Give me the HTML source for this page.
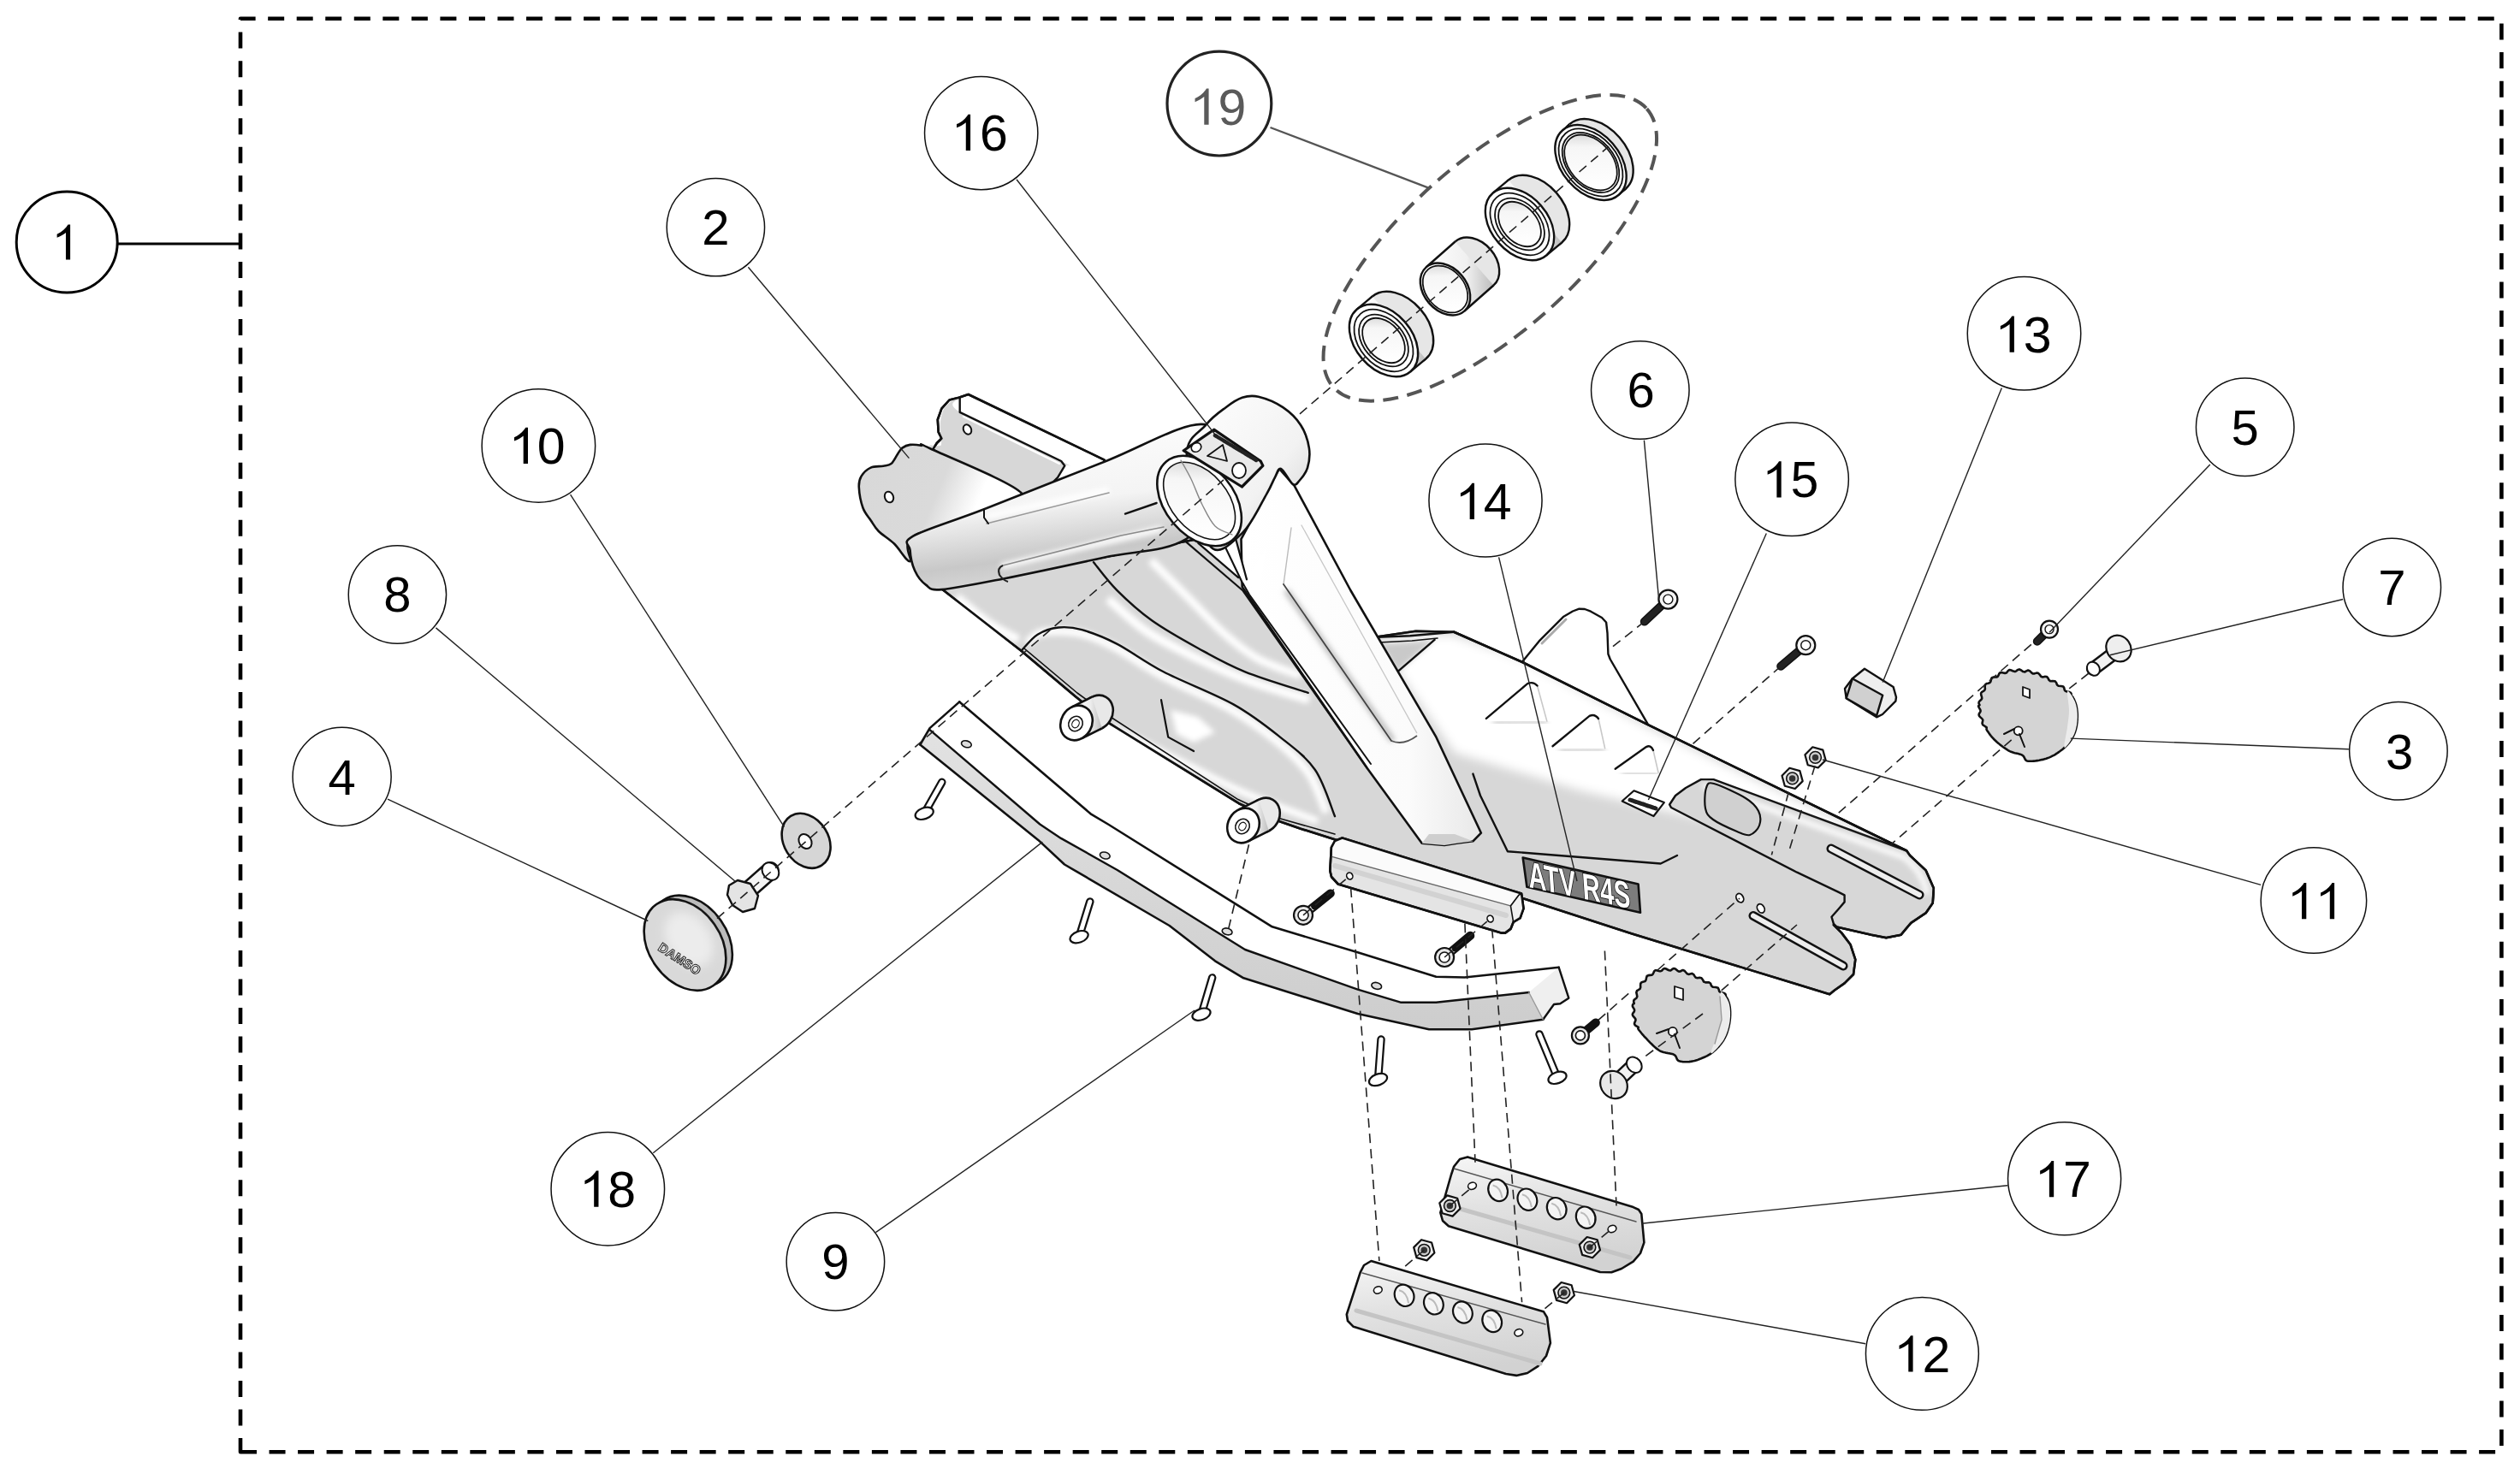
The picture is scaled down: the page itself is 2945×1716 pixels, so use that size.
<!DOCTYPE html><html><head><meta charset="utf-8"><style>html,body{margin:0;padding:0;background:#fff;overflow:hidden}svg{display:block}text{font-family:"Liberation Sans",sans-serif}</style></head><body>
<svg width="2945" height="1716" viewBox="0 0 2945 1716">
<rect width="100%" height="100%" fill="#fff"/>
<path d="M281,1697.3 H2923.4 V21.7 H281 Z" fill="none" stroke="#000" stroke-width="4.6" stroke-dasharray="19 14.54" stroke-linejoin="round"/>
<line x1="138" y1="285" x2="281" y2="285" stroke="#000" stroke-width="2.8"/>
<defs>
<filter id="gray"><feColorMatrix type="saturate" values="0"/></filter>
<linearGradient id="guideG" x1="0" y1="0" x2="0.15" y2="1"><stop offset="0" stop-color="#f6f6f6"/><stop offset="0.45" stop-color="#e2e2e2"/><stop offset="1" stop-color="#d2d2d2"/></linearGradient>
<filter id="blur3" x="-20%" y="-20%" width="140%" height="140%"><feGaussianBlur stdDeviation="3"/></filter>
<filter id="blur6" x="-20%" y="-20%" width="140%" height="140%"><feGaussianBlur stdDeviation="6"/></filter>
<linearGradient id="tubeG" x1="0" y1="0" x2="0.25" y2="1"><stop offset="0" stop-color="#fff"/><stop offset="0.55" stop-color="#f4f4f4"/><stop offset="0.85" stop-color="#c8c8c8"/><stop offset="1" stop-color="#d8d8d8"/></linearGradient>
<linearGradient id="plateG" x1="0" y1="0" x2="1" y2="0.3"><stop offset="0" stop-color="#d8d8d8"/><stop offset="0.55" stop-color="#dadada"/><stop offset="0.8" stop-color="#fff"/></linearGradient>
<linearGradient id="armG" x1="0" y1="0" x2="1" y2="0"><stop offset="0" stop-color="#fff"/><stop offset="0.7" stop-color="#fbfbfb"/><stop offset="1" stop-color="#e8e8e8"/></linearGradient>
<linearGradient id="bossG" x1="0" y1="0" x2="1" y2="1"><stop offset="0" stop-color="#fff"/><stop offset="0.6" stop-color="#f2f2f2"/><stop offset="1" stop-color="#cfcfcf"/></linearGradient>
<linearGradient id="innerG" x1="0" y1="0" x2="1" y2="0.6"><stop offset="0" stop-color="#c8c8c8"/><stop offset="0.35" stop-color="#f6f6f6"/><stop offset="1" stop-color="#fff"/></linearGradient>
<linearGradient id="sideG" x1="0" y1="0" x2="0" y2="1"><stop offset="0" stop-color="#e2e2e2"/><stop offset="1" stop-color="#cdcdcd"/></linearGradient>
<linearGradient id="ringG" x1="0" y1="0" x2="1" y2="0"><stop offset="0" stop-color="#fff"/><stop offset="0.6" stop-color="#f0f0f0"/><stop offset="1" stop-color="#bdbdbd"/></linearGradient>
</defs>
<path d="M1090.2,525.4 L1094.8,518.0 L1100.4,512.5 L1096.7,505.2 L1095.8,490.5 L1100.4,477.6 L1109.5,467.5 L1120.6,464.7 L1131.6,461.0 L1290.6,537.6 L1290.0,560.0 L1200.0,590.0 Z" fill="#fff" stroke="#111" stroke-width="2.6" stroke-linejoin="round" />
<path d="M1099.9,519.9 C1101.0,515.4 1098.0,504.9 1098.5,498.1 C1099.0,491.3 1100.1,484.0 1102.6,479.0 C1105.1,474.0 1110.3,470.4 1113.5,468.1 C1116.7,465.8 1120.3,463.1 1121.7,465.4 C1123.1,467.7 1102.0,469.5 1121.7,481.8 C1141.5,494.1 1219.8,528.6 1240.2,539.0 C1260.6,549.4 1245.0,541.2 1244.3,544.4 C1243.6,547.6 1239.7,553.5 1236.1,558.1 C1232.5,562.7 1229.3,568.3 1222.5,571.7 C1215.7,575.1 1217.0,586.2 1195.2,578.5 C1173.4,570.8 1107.6,535.2 1091.7,525.4 C1075.8,515.6 1098.8,524.4 1099.9,519.9 Z" fill="#d7d7d7" stroke="#111" stroke-width="0" stroke-linejoin="round" stroke-linecap="round" />
<path d="M1121.7,465.4 L1121.7,481.8 L1240.2,539.0 L1244.3,544.4 L1236.1,558.1 L1222.5,571.7" fill="none" stroke="#111" stroke-width="2.4" stroke-linejoin="round" stroke-linecap="round" />
<path d="M1126.0,487.0 L1238.0,542.0" fill="none" stroke="#fff" stroke-width="2.5" stroke-linejoin="round" stroke-linecap="round" />
<path d="M1090.2,525.4 L1094.8,518.0 L1100.4,512.5 L1096.7,505.2 L1095.8,490.5 L1100.4,477.6 L1109.5,467.5 L1120.6,464.7 L1131.6,461.0 L1290.6,537.6 L1290.0,560.0 L1200.0,590.0 Z" fill="none" stroke="#111" stroke-width="2.6" stroke-linejoin="round" />
<ellipse cx="1130.5" cy="502" rx="4.5" ry="6" transform="rotate(-25 1130.5 502)" fill="#fff" stroke="#111" stroke-width="2" />
<path d="M1100.0,688.0 L1192.8,760.2 L1256.6,814.1 L1293.4,843.6 L1447.9,939.2 L1492.0,958.9 L1520.0,968.7 L1559.0,981.0 L1784.0,1051.5 L1906.5,1091.3 L2100.0,1150.6 L2138.2,1162.2 L2144.0,1157.5 L2155.6,1149.4 L2166.0,1139.0 L2168.3,1121.6 L2162.6,1104.3 L2152.1,1090.4 L2142.9,1081.1 L2146.3,1083.4 L2186.9,1092.7 L2204.3,1096.1 L2221.6,1092.7 L2227.4,1085.7 L2233.2,1078.8 L2250.6,1067.2 L2258.7,1055.6 L2259.8,1038.2 L2250.6,1017.4 L2232.0,1000.0 L2228.2,994.5 L1926.4,847.4 L1779.1,774.0 L1699.2,738.8 L1654.6,737.7 L1606.9,744.8 L1560.0,700.0 L1500.0,600.0 L1400.0,630.0 Z" fill="#d7d7d7" stroke="#111" stroke-width="2.6" stroke-linejoin="round" />
<path d="M1610.0,750.0 L1655.0,742.0 L1697.0,742.0 L1778.0,770.0 L1926.0,850.0 L2226.0,996.0 L2215.0,1010.0 L2000.0,960.0 L1850.0,925.0 L1700.0,880.0 Z" fill="#fff" filter="url(#blur6)"/>
<path d="M1779.1,773.5 L1798.7,749.4 L1827.4,720.7 L1838.0,714.5 L1845.5,711.7 L1852.0,712.0 L1859.0,714.7 L1872.0,722.0 L1877.1,727.5 L1878.5,740.0 L1879.4,764.5 L1881.7,770.5 L1925.4,845.9 Z" fill="#fff" stroke="none"/>
<path d="M1802.0,752.0 L1830.0,724.0" fill="none" stroke="#aaa" stroke-width="3" stroke-linejoin="round" stroke-linecap="round" />
<path d="M1779.1,773.5 L1798.7,749.4 L1827.4,720.7 L1838.0,714.5 L1845.5,711.7 L1852.0,712.0 L1859.0,714.7 L1872.0,722.0 L1877.1,727.5 L1878.5,740.0 L1879.4,764.5 L1881.7,770.5 L1925.4,845.9" fill="none" stroke="#111" stroke-width="2.4" stroke-linejoin="round" stroke-linecap="round" />
<path d="M1699.2,738.8 L1779.1,774.0 L1926.4,847.4 L2228.2,994.5" fill="none" stroke="#111" stroke-width="2.6" stroke-linejoin="round" stroke-linecap="round" />
<path d="M1744.9,844.9 L1807.8,843.9" stroke="#bdbdbd" stroke-width="4" filter="url(#blur3)"/>
<path d="M1796.5,801.5 L1807.8,842.9" fill="none" stroke="#c8c8c8" stroke-width="1.6" stroke-linejoin="round" stroke-linecap="round" />
<path d="M1736.9,839.9 L1785.1,799.2 Q1791.8,796.2 1796.5,801.5" fill="none" stroke="#111" stroke-width="2.4" stroke-linecap="round"/>
<path d="M1822.5,877.3 L1875.6,875.6" stroke="#bdbdbd" stroke-width="4" filter="url(#blur3)"/>
<path d="M1868.0,840.0 L1875.6,874.6" fill="none" stroke="#c8c8c8" stroke-width="1.6" stroke-linejoin="round" stroke-linecap="round" />
<path d="M1814.5,872.3 L1857.5,836.9 Q1863.75,833.9 1868,840" fill="none" stroke="#111" stroke-width="2.4" stroke-linecap="round"/>
<path d="M1895.7,903.7 L1938,904" stroke="#bdbdbd" stroke-width="4" filter="url(#blur3)"/>
<path d="M1932.0,877.0 L1938.0,903.0" fill="none" stroke="#c8c8c8" stroke-width="1.6" stroke-linejoin="round" stroke-linecap="round" />
<path d="M1887.7,898.7 L1923.9,873.1 Q1928.95,870.1 1932,877" fill="none" stroke="#111" stroke-width="2.4" stroke-linecap="round"/>
<path d="M1613.2,752.4 L1676.5,747.9 L1632.8,785.6 Z" fill="#c9c9c9" stroke="#111" stroke-width="0" stroke-linejoin="round" filter="url(#blur3)"/>
<path d="M1676.5,747.9 L1632.8,785.6" fill="none" stroke="#111" stroke-width="2.4" stroke-linejoin="round" stroke-linecap="round" />
<path d="M1608.7,744.9 L1647.9,743.3 L1699.2,738.8" fill="none" stroke="#111" stroke-width="2.4" stroke-linejoin="round" stroke-linecap="round" />
<path d="M1611.0,751.0 L1650.0,749.0 L1680.0,746.0" fill="none" stroke="#111" stroke-width="1.6" stroke-linejoin="round" stroke-linecap="round" />
<path d="M1951.1,940.5 L1958.0,930.0 L1970.0,921.0 L1987.9,911.1 L2002.6,911.1 L2228.2,994.5 L2232.0,1000.0 L2250.6,1017.4 L2259.8,1038.2 L2258.7,1055.6 L2250.6,1067.2 L2233.2,1078.8 L2227.4,1085.7 L2221.6,1092.7 L2204.3,1096.1 L2186.9,1092.7 L2146.3,1083.4 L2142.9,1079.9 L2140.5,1071.8 L2148.7,1062.5 L2155.6,1054.4 L2155.6,1046.3 L2148.7,1042.9 L2100.0,1019.7 L1953.0,944.0 Z" fill="#d7d7d7" stroke="#111" stroke-width="2.4" stroke-linejoin="round" />
<path d="M1990,918 L2225,1002 Q2248,1020 2252,1045" fill="none" stroke="#fff" stroke-width="6" filter="url(#blur3)"/>
<path d="M1994.0,921.0 C1995.7,916.2 1995.3,914.0 2003.0,916.0 C2010.7,918.0 2031.3,927.7 2040.0,933.0 C2048.7,938.3 2052.3,942.7 2055.0,948.0 C2057.7,953.3 2057.7,960.3 2056.0,965.0 C2054.3,969.7 2049.3,974.8 2045.0,976.0 C2040.7,977.2 2037.2,975.0 2030.0,972.0 C2022.8,969.0 2008.2,962.5 2002.0,958.0 C1995.8,953.5 1994.3,951.2 1993.0,945.0 C1991.7,938.8 1992.3,925.8 1994.0,921.0 Z" fill="#d0d0d0" stroke="#111" stroke-width="2.2" stroke-linejoin="round" stroke-linecap="round" />
<path d="M2140,992 L2243,1046" stroke="#111" stroke-width="11" stroke-linecap="round"/>
<path d="M2140,992 L2243,1046" stroke="#eee" stroke-width="6" stroke-linecap="round"/>
<path d="M2049,1070.5 L2154,1129" stroke="#111" stroke-width="11" stroke-linecap="round"/>
<path d="M2049,1070.5 L2154,1129" stroke="#eee" stroke-width="6" stroke-linecap="round"/>
<ellipse cx="2033.3" cy="1049.7" rx="4" ry="5.5" transform="rotate(-30 2033.3 1049.7)" fill="#fff" stroke="#111" stroke-width="1.8" />
<ellipse cx="2057.8" cy="1061.9" rx="4" ry="5.5" transform="rotate(-30 2057.8 1061.9)" fill="#fff" stroke="#111" stroke-width="1.8" />
<path d="M1721.4,904.6 L1730.0,930.0 L1761.9,995.2 L1940.7,1009.5 L1960.0,1000.0" fill="none" stroke="#111" stroke-width="2.4" stroke-linejoin="round" stroke-linecap="round" />
<path d="M1779.7,1002.5 L1914.6,1033.5 L1917.0,1066.8 L1784.4,1036.7 Z" fill="#7c7c7c" stroke="#111" stroke-width="2.6" stroke-linejoin="round" />
<g filter="url(#gray)"><g transform="translate(1787,1037) rotate(12) skewX(16) scale(0.7,1)"><text x="0" y="0" font-family="Liberation Sans" font-weight="bold" font-size="42" fill="#fff" stroke="#111" stroke-width="2" paint-order="stroke">ATV R4S</text></g></g>
<path d="M1909.5,924.3 L1944.8,938.1 L1932.5,954.0 L1895.7,936.5 Z" fill="#fff" stroke="#111" stroke-width="2.2" stroke-linejoin="round" /><path d="M1905.0,935.0 L1935.0,945.0" fill="none" stroke="#222" stroke-width="5" stroke-linejoin="round" stroke-linecap="round" stroke-dasharray="3 2"/>
<path d="M1200.0,752.0 C1202.5,750.0 1208.3,742.3 1215.0,740.0 C1221.7,737.7 1231.2,737.7 1240.0,738.0 C1248.8,738.3 1257.2,738.7 1268.0,742.0 C1278.8,745.3 1289.7,749.8 1305.0,758.0 C1320.3,766.2 1337.5,779.0 1360.0,791.0 C1382.5,803.0 1417.7,817.2 1440.0,830.0 C1462.3,842.8 1479.0,855.5 1494.0,868.0 C1509.0,880.5 1520.7,891.3 1530.0,905.0 C1539.3,918.7 1546.7,942.5 1550.0,950.0" fill="none" stroke="#fff" stroke-width="9" filter="url(#blur3)"/>
<path d="M1118.0,698.0 C1124.2,703.0 1143.0,719.7 1155.0,728.0 C1167.0,736.3 1184.2,744.7 1190.0,748.0" fill="none" stroke="#fff" stroke-width="10" filter="url(#blur3)"/>
<path d="M1345.0,655.0 C1352.5,662.5 1375.8,685.8 1390.0,700.0 C1404.2,714.2 1416.7,728.3 1430.0,740.0 C1443.3,751.7 1455.0,761.7 1470.0,770.0 C1485.0,778.3 1511.7,786.7 1520.0,790.0" fill="none" stroke="#fff" stroke-width="9" filter="url(#blur3)"/>
<path d="M1300.0,850.0 C1313.3,856.7 1355.0,877.5 1380.0,890.0 C1405.0,902.5 1423.3,913.3 1450.0,925.0 C1476.7,936.7 1525.0,954.2 1540.0,960.0" fill="none" stroke="#fff" stroke-width="8" filter="url(#blur3)"/>
<path d="M1295.0,700.0 C1302.5,706.3 1322.5,726.3 1340.0,738.0 C1357.5,749.7 1380.0,760.3 1400.0,770.0 C1420.0,779.7 1438.3,788.0 1460.0,796.0 C1481.7,804.0 1518.3,814.3 1530.0,818.0" fill="none" stroke="#fff" stroke-width="10" filter="url(#blur3)"/>
<path d="M1278.0,657.2 C1282.5,662.7 1293.9,678.5 1305.2,689.9 C1316.5,701.2 1330.2,713.9 1346.1,725.3 C1362.0,736.6 1382.4,748.0 1400.6,758.0 C1418.8,768.0 1433.8,776.7 1455.1,785.3 C1476.4,793.9 1516.4,805.7 1528.7,809.8" fill="none" stroke="#111" stroke-width="2.4" stroke-linejoin="round" stroke-linecap="round" />
<path d="M1193.5,760.8 C1196.7,757.6 1205.3,746.2 1212.6,741.7 C1219.9,737.2 1228.5,734.4 1237.1,733.5 C1245.7,732.6 1253.1,733.0 1264.4,736.2 C1275.8,739.4 1289.3,744.4 1305.2,752.6 C1321.1,760.8 1337.0,773.5 1359.7,785.3 C1382.4,797.1 1418.8,810.7 1441.5,823.4 C1464.2,836.1 1480.1,848.9 1496.0,861.6 C1511.9,874.3 1526.1,884.3 1536.8,899.7 C1547.5,915.1 1556.1,945.1 1560.0,954.2" fill="none" stroke="#111" stroke-width="2.4" stroke-linejoin="round" stroke-linecap="round" />
<path d="M1100.0,688.0 L1192.8,760.2 L1256.6,814.1 L1293.4,843.6 L1447.9,939.2 L1492.0,958.9 L1520.0,968.7 L1559.0,981.0 L1784.0,1051.5 L1906.5,1091.3 L2100.0,1150.6 L2138.2,1162.2 L2144.0,1157.5 L2155.6,1149.4 L2166.0,1139.0 L2168.3,1121.6 L2162.6,1104.3 L2152.1,1090.4 L2142.9,1081.1 L2146.3,1083.4 L2186.9,1092.7 L2204.3,1096.1 L2221.6,1092.7 L2227.4,1085.7 L2233.2,1078.8 L2250.6,1067.2 L2258.7,1055.6 L2259.8,1038.2 L2250.6,1017.4 L2232.0,1000.0 L2228.2,994.5 L1926.4,847.4 L1779.1,774.0 L1699.2,738.8 L1654.6,737.7 L1606.9,744.8 L1560.0,700.0 L1500.0,600.0 L1400.0,630.0 Z" fill="none" stroke="#111" stroke-width="2.6" stroke-linejoin="round" />
<path d="M1357.0,818.0 L1365.2,861.6 L1395.1,878.0" fill="none" stroke="#111" stroke-width="2.2" stroke-linejoin="round" stroke-linecap="round" /><path d="M1368,830 L1375,858 L1395,868 L1420,856 L1400,838 Z" fill="#fff" filter="url(#blur3)"/>
<path d="M1197.0,758.0 L1258.9,810.0 L1291.6,834.0 L1446.9,934.6 L1493.0,956.0 L1560.0,975.0" fill="none" stroke="#111" stroke-width="1.6" stroke-linejoin="round" stroke-linecap="round" />
<path d="M1512.7,567.8 L1578.3,690.0 L1678.4,861.7 L1730.9,973.7 L1721.4,983.3 L1702.3,985.7 L1688.0,988.0 L1661.7,985.7 L1597.4,897.4 L1451.7,686.0 L1450.5,630.2 L1495.0,548.0 Z" fill="url(#armG)" stroke="#111" stroke-width="2.6" stroke-linejoin="round" />
<path d="M1503,690 L1628,866" stroke="#bdbdbd" stroke-width="7" filter="url(#blur3)"/>
<path d="M1509.0,617.0 L1500.0,683.0" fill="none" stroke="#bbb" stroke-width="1.4" stroke-linejoin="round" stroke-linecap="round" />
<path d="M1500.0,683.0 L1626.0,866.0" fill="none" stroke="#444" stroke-width="1.8" stroke-linejoin="round" stroke-linecap="round" />
<path d="M1521.0,614.0 L1655.7,856.6" fill="none" stroke="#c8c8c8" stroke-width="1.3" stroke-linejoin="round" stroke-linecap="round" />
<path d="M1626,866 Q1640,872 1656,860" fill="none" stroke="#555" stroke-width="1.8"/>
<path d="M1661.7,985.7 L1688.0,988.0 L1702.3,985.7 L1721.4,983.3 L1700.0,975.0 L1670.0,975.0 Z" fill="#cfcfcf"/>
<path d="M1400.3,634.9 L1430.8,637.1 L1452.0,681.0 L1447.2,675.2 Z" fill="#fff" stroke="#111" stroke-width="0" stroke-linejoin="round" />
<path d="M1430.8,637.1 L1444.0,629.4 L1457.0,677.4 L1470.0,700.0 L1480.0,640.0 L1452.6,682.8 Z" fill="#fff" stroke="#111" stroke-width="0" stroke-linejoin="round" />
<path d="M1384.0,631.6 L1452.6,690.5 L1597.4,897.4" fill="none" stroke="#111" stroke-width="2.2" stroke-linejoin="round" stroke-linecap="round" />
<path d="M1400.3,634.9 L1447.2,675.2" fill="none" stroke="#111" stroke-width="2.2" stroke-linejoin="round" stroke-linecap="round" />
<path d="M1452.6,682.0 L1460.0,695.0 L1602.0,893.0" fill="none" stroke="#111" stroke-width="2.0" stroke-linejoin="round" stroke-linecap="round" />
<path d="M1430.8,637.1 L1452.6,682.8" fill="none" stroke="#111" stroke-width="2.2" stroke-linejoin="round" stroke-linecap="round" />
<path d="M1444.0,629.4 L1457.0,677.4" fill="none" stroke="#111" stroke-width="2.2" stroke-linejoin="round" stroke-linecap="round" />
<path d="M1063.6,656.0 C1060.0,657.5 1051.3,641.6 1045.2,635.8 C1039.1,630.0 1031.4,625.6 1026.8,621.0 C1022.2,616.4 1020.7,612.8 1017.6,608.2 C1014.5,603.6 1010.7,600.0 1008.4,593.5 C1006.1,587.0 1004.1,575.6 1003.8,569.5 C1003.5,563.4 1004.3,560.5 1006.6,556.7 C1008.9,552.9 1013.3,548.6 1017.6,546.6 C1021.9,544.6 1028.3,545.5 1032.3,544.7 C1036.3,543.9 1038.7,544.3 1041.5,542.0 C1044.3,539.7 1046.8,534.0 1048.9,530.9 C1051.1,527.8 1052.0,525.4 1054.4,523.6 C1056.9,521.8 1059.9,520.4 1063.6,519.9 C1067.3,519.4 1072.4,520.0 1076.4,520.8 C1080.4,521.6 1067.9,515.1 1087.5,524.5 C1107.1,533.9 1183.8,564.3 1194.2,576.9 C1204.6,589.5 1171.2,591.6 1150.0,600.0 C1128.8,608.4 1081.4,617.7 1067.0,627.0 C1052.6,636.3 1067.2,654.5 1063.6,656.0 Z" fill="url(#plateG)" stroke="#111" stroke-width="2.6" stroke-linejoin="round" stroke-linecap="round" />
<ellipse cx="1039" cy="581" rx="5" ry="6.5" transform="rotate(-20 1039 581)" fill="#fff" stroke="#111" stroke-width="2" />
<path d="M1067.2,626.6 C1081.6,618.6 1112.9,609.7 1150.0,595.3 C1187.1,580.9 1247.1,556.5 1290.0,540.0 C1332.9,523.5 1382.6,492.8 1407.6,496.1 C1432.6,499.4 1443.6,537.6 1440.0,560.0 C1436.4,582.4 1411.2,614.9 1386.2,630.2 C1361.2,645.5 1325.4,644.0 1290.0,651.7 C1254.6,659.4 1205.6,670.0 1174.0,676.2 C1142.4,682.4 1115.7,687.9 1100.4,689.1 C1085.1,690.3 1087.2,687.3 1082.0,683.6 C1076.8,679.9 1072.2,673.8 1069.1,667.0 C1066.0,660.2 1063.9,649.8 1063.6,643.1 C1063.3,636.4 1052.8,634.6 1067.2,626.6 Z" fill="url(#tubeG)" stroke="#111" stroke-width="2.6" stroke-linejoin="round" stroke-linecap="round" />
<path d="M1152,604 L1296,573" stroke="#fff" stroke-width="7" filter="url(#blur3)"/>
<path d="M1153.0,612.0 L1296.0,576.0" fill="none" stroke="#999" stroke-width="1.6" stroke-linejoin="round" stroke-linecap="round" />
<path d="M1170,662 L1358,618" stroke="#fff" stroke-width="7" filter="url(#blur3)"/>
<path d="M1172.0,661.0 L1310.0,626.0 L1360.0,616.0" fill="none" stroke="#8a8a8a" stroke-width="1.5" stroke-linejoin="round" stroke-linecap="round" />
<path d="M1172,661 Q1165,664 1168,672 Q1172,678 1178,680" fill="none" stroke="#222" stroke-width="2.2"/>
<path d="M1150.0,595.0 L1150.0,605.0 L1155.0,612.0" fill="none" stroke="#111" stroke-width="2" stroke-linejoin="round" stroke-linecap="round" />
<path d="M1315.0,600.6 L1351.6,588.0" fill="none" stroke="#111" stroke-width="2.4" stroke-linejoin="round" stroke-linecap="round" />
<path d="M1386.8,533.5 C1386.2,510.0 1402.1,505.9 1409.7,496.3 C1417.3,486.8 1425.6,481.4 1432.6,476.2 C1439.6,470.9 1445.3,466.9 1451.7,464.8 C1458.1,462.7 1462.8,461.9 1470.7,463.8 C1478.6,465.7 1491.0,470.6 1499.3,476.2 C1507.6,481.8 1515.2,489.2 1520.3,497.2 C1525.4,505.1 1528.6,515.6 1529.9,523.9 C1531.2,532.2 1529.9,540.4 1528.0,546.8 C1526.1,553.1 1521.3,558.8 1518.4,562.0 C1515.5,565.2 1514.4,568.2 1510.8,565.9 C1507.2,563.6 1500.5,549.3 1497.0,548.0 C1493.5,546.7 1492.6,553.4 1489.8,558.3 C1487.0,563.2 1486.6,566.5 1480.3,577.3 C1474.0,588.1 1462.8,613.1 1451.7,623.1 C1440.6,633.1 1424.3,652.3 1413.5,637.4 C1402.7,622.5 1387.4,557.0 1386.8,533.5 Z" fill="url(#bossG)" stroke="#111" stroke-width="2.6" stroke-linejoin="round" stroke-linecap="round" />
<ellipse cx="1401.6" cy="585.5" rx="60" ry="40" transform="rotate(50 1401.6 585.5)" fill="#fff" stroke="#111" stroke-width="2.6" />
<ellipse cx="1401.6" cy="585.5" rx="52" ry="33" transform="rotate(50 1401.6 585.5)" fill="url(#innerG)" stroke="#111" stroke-width="1.6" />
<path d="M1380.0,538.0 C1382.0,541.7 1387.8,551.3 1392.0,560.0 C1396.2,568.7 1400.3,580.8 1405.0,590.0 C1409.7,599.2 1414.2,609.2 1420.0,615.0 C1425.8,620.8 1436.7,623.3 1440.0,625.0" fill="none" stroke="#888" stroke-width="1.4" stroke-linejoin="round" stroke-linecap="round" />
<path d="M1383.2,526.7 L1418.7,502.2 L1473.2,539.0 L1475.9,544.4 L1451.4,569.0 Z" fill="#e9e9e9" stroke="#111" stroke-width="3.2" stroke-linejoin="round" />
<path d="M1420.0,509.0 L1468.0,538.0" fill="none" stroke="#222" stroke-width="4.5" stroke-linejoin="round" stroke-linecap="round" stroke-dasharray="2.5 1.5"/>
<path d="M1411.0,533.0 L1429.0,520.0 L1434.0,539.0 L1411.0,533.0" fill="none" stroke="#111" stroke-width="1.8" stroke-linejoin="round" stroke-linecap="round" />
<ellipse cx="1448" cy="550" rx="8" ry="9" transform="rotate(0 1448 550)" fill="#fff" stroke="#111" stroke-width="1.8" />
<ellipse cx="1398" cy="523" rx="6" ry="5" transform="rotate(-30 1398 523)" fill="#fff" stroke="#111" stroke-width="1.6" />
<path d="M1568.6,979.5 L1778.1,1044.6 L1780.5,1062.0 L1776.5,1073.2 L1768.6,1077.9 L1765.4,1085.9 L1759.0,1090.6 L1754.3,1090.6 L1563.8,1033.5 L1556.0,1025.0 L1554.3,1017.6 L1555.9,990.6 L1560.0,983.0 Z" fill="#e4e4e4" stroke="#111" stroke-width="2.6" stroke-linejoin="round" />
<path d="M1560.0,983.0 L1568.6,979.5 L1778.1,1044.6 L1775.0,1046.2 L1765.4,1058.9 L1557.5,1001.7 L1555.9,990.6 Z" fill="#fbfbfb" stroke="#111" stroke-width="0" stroke-linejoin="round" />
<path d="M1557.5,1001.7 L1765.4,1058.9 L1775.0,1046.2" fill="none" stroke="#666" stroke-width="1.4" stroke-linejoin="round" stroke-linecap="round" />
<path d="M1560.0,1012.0 L1760.0,1070.0" fill="none" stroke="#d2d2d2" stroke-width="6" stroke-linejoin="round" stroke-linecap="round" />
<path d="M1765.4,1058.9 L1775.0,1046.2 L1778.1,1044.6 L1780.5,1062.0 L1776.5,1073.2 L1768.6,1077.9 Z" fill="#f0f0f0" stroke="#111" stroke-width="1.6" stroke-linejoin="round" />
<path d="M1568.6,979.5 L1778.1,1044.6 L1780.5,1062.0 L1776.5,1073.2 L1768.6,1077.9 L1765.4,1085.9 L1759.0,1090.6 L1754.3,1090.6 L1563.8,1033.5 L1556.0,1025.0 L1554.3,1017.6 L1555.9,990.6 L1560.0,983.0 Z" fill="none" stroke="#111" stroke-width="2.6" stroke-linejoin="round" />
<ellipse cx="1577.3" cy="1024" rx="3.5" ry="4" transform="rotate(-30 1577.3 1024)" fill="#fff" stroke="#111" stroke-width="1.6" />
<ellipse cx="1741.6" cy="1074" rx="3.5" ry="4" transform="rotate(-30 1741.6 1074)" fill="#fff" stroke="#111" stroke-width="1.6" />
<ellipse cx="1282" cy="833" rx="18" ry="21" transform="rotate(30 1282 833)" fill="#e8e8e8" stroke="#111" stroke-width="2.6"/><path d="M1263.8,863.3 L1287.8,851.3 L1276.2,814.7 L1252.2,826.7 Z" fill="url(#ringG)" stroke="none"/><path d="M1263.8,863.3 L1287.8,851.3 M1276.2,814.7 L1252.2,826.7" stroke="#111" stroke-width="2.6" fill="none"/><ellipse cx="1258" cy="845" rx="18" ry="21" transform="rotate(30 1258 845)" fill="#fff" stroke="#111" stroke-width="2.6" /><ellipse cx="1257" cy="846" rx="8" ry="9" transform="rotate(30 1257 846)" fill="#fff" stroke="#111" stroke-width="1.6" /><ellipse cx="1257" cy="846" rx="4" ry="5" transform="rotate(30 1257 846)" fill="#fff" stroke="#111" stroke-width="1.2" />
<ellipse cx="1477" cy="953" rx="18" ry="21" transform="rotate(30 1477 953)" fill="#e8e8e8" stroke="#111" stroke-width="2.6"/><path d="M1458.8,983.3 L1482.8,971.3 L1471.2,934.7 L1447.2,946.7 Z" fill="url(#ringG)" stroke="none"/><path d="M1458.8,983.3 L1482.8,971.3 M1471.2,934.7 L1447.2,946.7" stroke="#111" stroke-width="2.6" fill="none"/><ellipse cx="1453" cy="965" rx="18" ry="21" transform="rotate(30 1453 965)" fill="#fff" stroke="#111" stroke-width="2.6" /><ellipse cx="1452" cy="966" rx="8" ry="9" transform="rotate(30 1452 966)" fill="#fff" stroke="#111" stroke-width="1.6" /><ellipse cx="1452" cy="966" rx="4" ry="5" transform="rotate(30 1452 966)" fill="#fff" stroke="#111" stroke-width="1.2" />
<path d="M1086.6,853.1 L1215.3,963.5 L1239.9,979.9 L1305.3,1016.7 L1455.0,1110.0 L1586.7,1156.7 L1636.7,1171.7 L1678.3,1171.7 L1786.7,1160.0 L1803.3,1191.7 L1803.3,1191.7 L1720.0,1203.3 L1670.0,1203.3 L1586.7,1185.0 L1453.3,1143.3 L1420.0,1123.3 L1366.6,1082.0 L1244.0,1010.5 L1213.3,981.9 L1075.3,870.5 L1081.0,860.0 Z" fill="url(#sideG)" stroke="#111" stroke-width="0" stroke-linejoin="round" />
<path d="M1121.3,820.4 L1274.6,951.3 L1295.0,963.5 L1420.0,1041.7 L1486.7,1083.3 L1586.7,1113.3 L1678.3,1141.7 L1711.7,1142.5 L1821.7,1130.8 L1786.7,1160.0 L1786.7,1160.0 L1678.3,1171.7 L1636.7,1171.7 L1586.7,1156.7 L1455.0,1110.0 L1305.3,1016.7 L1239.9,979.9 L1215.3,963.5 L1086.6,853.1 L1086.6,851.1 Z" fill="#fff" stroke="#111" stroke-width="0" stroke-linejoin="round" />
<path d="M1821.7,1130.8 L1833.3,1166.7 L1823.3,1173.3 L1816.0,1174.0 L1811.7,1180.0 L1803.3,1191.7 L1786.7,1160.0 Z" fill="#efefef" stroke="#111" stroke-width="0" stroke-linejoin="round" />
<path d="M1121.3,820.4 L1274.6,951.3 L1295.0,963.5 L1420.0,1041.7 L1486.7,1083.3 L1586.7,1113.3 L1678.3,1141.7 L1711.7,1142.5 L1821.7,1130.8" fill="none" stroke="#111" stroke-width="2.6" stroke-linejoin="round" stroke-linecap="round" />
<path d="M1086.6,853.1 L1215.3,963.5 L1239.9,979.9 L1305.3,1016.7 L1455.0,1110.0 L1586.7,1156.7 L1636.7,1171.7 L1678.3,1171.7 L1786.7,1160.0" fill="none" stroke="#111" stroke-width="2.4" stroke-linejoin="round" stroke-linecap="round" />
<path d="M1075.3,870.5 L1213.3,981.9 L1244.0,1010.5 L1366.6,1082.0 L1420.0,1123.3 L1453.3,1143.3 L1586.7,1185.0 L1670.0,1203.3 L1720.0,1203.3 L1803.3,1191.7" fill="none" stroke="#111" stroke-width="2.6" stroke-linejoin="round" stroke-linecap="round" />
<path d="M1821.7,1130.8 L1833.3,1166.7 L1823.3,1173.3 L1816.0,1174.0 L1811.7,1180.0 L1803.3,1191.7" fill="none" stroke="#111" stroke-width="2.4" stroke-linejoin="round" stroke-linecap="round" />
<path d="M1786.7,1160.0 L1803.3,1191.7" fill="none" stroke="#999" stroke-width="1.4" stroke-linejoin="round" stroke-linecap="round" />
<path d="M1121.3,820.4 L1086.6,851.1 L1075.3,870.5" fill="none" stroke="#111" stroke-width="2.6" stroke-linejoin="round" stroke-linecap="round" />
<ellipse cx="1129.4" cy="869.8" rx="6" ry="3.8" transform="rotate(15 1129.4 869.8)" fill="#ddd" stroke="#111" stroke-width="1.6" />
<ellipse cx="1291.3" cy="1000" rx="6" ry="3.8" transform="rotate(15 1291.3 1000)" fill="#ddd" stroke="#111" stroke-width="1.6" />
<ellipse cx="1434.1" cy="1088.9" rx="6" ry="3.8" transform="rotate(15 1434.1 1088.9)" fill="#ddd" stroke="#111" stroke-width="1.6" />
<ellipse cx="1608.7" cy="1152.4" rx="6" ry="3.8" transform="rotate(15 1608.7 1152.4)" fill="#ddd" stroke="#111" stroke-width="1.6" />
<path d="M1080.2,950.8 L1100.8,914.3" fill="none" stroke="#111" stroke-width="9.5" stroke-linejoin="round" stroke-linecap="round" /><path d="M1080.2,950.8 L1100.8,914.3" fill="none" stroke="#fff" stroke-width="5" stroke-linejoin="round" stroke-linecap="round" /><ellipse cx="1080.2" cy="950.8" rx="11" ry="6.5" transform="rotate(-20 1080.2 950.8)" fill="#fff" stroke="#111" stroke-width="2.2" />
<path d="M1261.1,1095.2 L1273.8,1054.0" fill="none" stroke="#111" stroke-width="9.5" stroke-linejoin="round" stroke-linecap="round" /><path d="M1261.1,1095.2 L1273.8,1054.0" fill="none" stroke="#fff" stroke-width="5" stroke-linejoin="round" stroke-linecap="round" /><ellipse cx="1261.1" cy="1095.2" rx="11" ry="6.5" transform="rotate(-20 1261.1 1095.2)" fill="#fff" stroke="#111" stroke-width="2.2" />
<path d="M1404.0,1185.7 L1416.7,1142.9" fill="none" stroke="#111" stroke-width="9.5" stroke-linejoin="round" stroke-linecap="round" /><path d="M1404.0,1185.7 L1416.7,1142.9" fill="none" stroke="#fff" stroke-width="5" stroke-linejoin="round" stroke-linecap="round" /><ellipse cx="1404" cy="1185.7" rx="11" ry="6.5" transform="rotate(-20 1404 1185.7)" fill="#fff" stroke="#111" stroke-width="2.2" />
<path d="M1610.5,1262.0 L1614.0,1215.0" fill="none" stroke="#111" stroke-width="9.5" stroke-linejoin="round" stroke-linecap="round" /><path d="M1610.5,1262.0 L1614.0,1215.0" fill="none" stroke="#fff" stroke-width="5" stroke-linejoin="round" stroke-linecap="round" /><ellipse cx="1610.5" cy="1262" rx="11" ry="6.5" transform="rotate(-20 1610.5 1262)" fill="#fff" stroke="#111" stroke-width="2.2" />
<path d="M1820.0,1259.8 L1799.0,1209.0" fill="none" stroke="#111" stroke-width="9.5" stroke-linejoin="round" stroke-linecap="round" /><path d="M1820.0,1259.8 L1799.0,1209.0" fill="none" stroke="#fff" stroke-width="5" stroke-linejoin="round" stroke-linecap="round" /><ellipse cx="1820" cy="1259.8" rx="11" ry="6.5" transform="rotate(-20 1820 1259.8)" fill="#fff" stroke="#111" stroke-width="2.2" />
<path d="M1523.0,1069.8 L1554.8,1044.4" fill="none" stroke="#111" stroke-width="10" stroke-linejoin="round" stroke-linecap="round" /><path d="M1523.0,1069.8 L1535.7,1059.6" fill="none" stroke="#fff" stroke-width="5.5" stroke-linejoin="round" stroke-linecap="round" /><path d="M1535.7,1059.6 L1554.8,1044.4" fill="none" stroke="#111" stroke-width="7" stroke-linejoin="round" stroke-linecap="round" /><circle cx="1523" cy="1069.8" r="11" fill="#e6e6e6" stroke="#111" stroke-width="2.2"/><circle cx="1523" cy="1069.8" r="6.050000000000001" fill="#fff" stroke="#111" stroke-width="1.6"/>
<path d="M1688.1,1119.0 L1718.3,1093.7" fill="none" stroke="#111" stroke-width="10" stroke-linejoin="round" stroke-linecap="round" /><path d="M1688.1,1119.0 L1700.2,1108.9" fill="none" stroke="#fff" stroke-width="5.5" stroke-linejoin="round" stroke-linecap="round" /><path d="M1700.2,1108.9 L1718.3,1093.7" fill="none" stroke="#111" stroke-width="7" stroke-linejoin="round" stroke-linecap="round" /><circle cx="1688.1" cy="1119" r="11" fill="#e6e6e6" stroke="#111" stroke-width="2.2"/><circle cx="1688.1" cy="1119" r="6.050000000000001" fill="#fff" stroke="#111" stroke-width="1.6"/>
<path d="M1846.9,1210.4 L1864.9,1195.4" fill="none" stroke="#111" stroke-width="10" stroke-linejoin="round" stroke-linecap="round" /><path d="M1846.9,1210.4 L1854.1,1204.4" fill="none" stroke="#fff" stroke-width="5.5" stroke-linejoin="round" stroke-linecap="round" /><path d="M1854.1,1204.4 L1864.9,1195.4" fill="none" stroke="#111" stroke-width="7" stroke-linejoin="round" stroke-linecap="round" /><circle cx="1846.9" cy="1210.4" r="10" fill="#e6e6e6" stroke="#111" stroke-width="2.2"/><circle cx="1846.9" cy="1210.4" r="5.5" fill="#fff" stroke="#111" stroke-width="1.6"/>
<path d="M1949.4,700.6 L1921.8,726.6" fill="none" stroke="#111" stroke-width="10" stroke-linejoin="round" stroke-linecap="round" /><path d="M1939.7,709.7 L1921.8,726.6" fill="none" stroke="#222" stroke-width="7" stroke-linejoin="round" stroke-linecap="round" /><circle cx="1949.4" cy="700.6" r="11" fill="#f4f4f4" stroke="#111" stroke-width="2.2"/><circle cx="1949.4" cy="700.6" r="5.5" fill="#fff" stroke="#111" stroke-width="1.4"/>
<path d="M2110.3,754.2 L2081.2,778.7" fill="none" stroke="#111" stroke-width="10" stroke-linejoin="round" stroke-linecap="round" /><path d="M2100.1,762.8 L2081.2,778.7" fill="none" stroke="#222" stroke-width="7" stroke-linejoin="round" stroke-linecap="round" /><circle cx="2110.3" cy="754.2" r="11" fill="#f4f4f4" stroke="#111" stroke-width="2.2"/><circle cx="2110.3" cy="754.2" r="5.5" fill="#fff" stroke="#111" stroke-width="1.4"/>
<path d="M2395.0,735.6 L2380.8,749.8" fill="none" stroke="#111" stroke-width="10" stroke-linejoin="round" stroke-linecap="round" /><path d="M2390.0,740.6 L2380.8,749.8" fill="none" stroke="#222" stroke-width="7" stroke-linejoin="round" stroke-linecap="round" /><circle cx="2395" cy="735.6" r="10" fill="#f4f4f4" stroke="#111" stroke-width="2.2"/><circle cx="2395" cy="735.6" r="5.0" fill="#fff" stroke="#111" stroke-width="1.4"/>
<path d="M2474.7,760.4 L2446.4,781.7" fill="none" stroke="#111" stroke-width="17" stroke-linejoin="round" stroke-linecap="round" /><path d="M2474.7,760.4 L2446.4,781.7" fill="none" stroke="#f2f2f2" stroke-width="12" stroke-linejoin="round" stroke-linecap="round" />
<ellipse cx="2446.4" cy="781.7" rx="7" ry="8.5" transform="rotate(-35 2446.4 781.7)" fill="#fff" stroke="#111" stroke-width="2" />
<ellipse cx="2476" cy="758" rx="14" ry="16" transform="rotate(-35 2476 758)" fill="#eee" stroke="#111" stroke-width="2.2" />
<path d="M1885.9,1267.3 L1909.8,1244.8" fill="none" stroke="#111" stroke-width="18" stroke-linejoin="round" stroke-linecap="round" /><path d="M1885.9,1267.3 L1909.8,1244.8" fill="none" stroke="#f2f2f2" stroke-width="13" stroke-linejoin="round" stroke-linecap="round" />
<ellipse cx="1909.8" cy="1244.8" rx="8" ry="10" transform="rotate(-40 1909.8 1244.8)" fill="#fff" stroke="#111" stroke-width="2" />
<ellipse cx="1886" cy="1268" rx="15" ry="17" transform="rotate(-40 1886 1268)" fill="#e8e8e8" stroke="#111" stroke-width="2.2" />
<polygon points="2106.7,913.1 2097.8,922.0 2085.8,918.7 2082.5,906.7 2091.4,897.8 2103.4,901.1" fill="#eee" stroke="#111" stroke-width="2.2" stroke-linejoin="round"/><circle cx="2094.6" cy="909.9" r="6.875000000000001" fill="#ccc" stroke="#111" stroke-width="1.6"/><circle cx="2094.6" cy="909.9" r="3.75" fill="#333"/>
<polygon points="2133.6,888.6 2124.7,897.5 2112.7,894.2 2109.4,882.2 2118.3,873.3 2130.3,876.6" fill="#eee" stroke="#111" stroke-width="2.2" stroke-linejoin="round"/><circle cx="2121.5" cy="885.4" r="6.875000000000001" fill="#ccc" stroke="#111" stroke-width="1.6"/><circle cx="2121.5" cy="885.4" r="3.75" fill="#333"/>
<polygon points="1676.4,1464.5 1667.5,1473.4 1655.5,1470.1 1652.2,1458.1 1661.1,1449.2 1673.1,1452.5" fill="#eee" stroke="#111" stroke-width="2.2" stroke-linejoin="round"/><circle cx="1664.3" cy="1461.3" r="6.875000000000001" fill="#ccc" stroke="#111" stroke-width="1.6"/><circle cx="1664.3" cy="1461.3" r="3.75" fill="#333"/>
<polygon points="1839.9,1514.3 1831.0,1523.2 1819.0,1519.9 1815.7,1507.9 1824.6,1499.0 1836.6,1502.3" fill="#eee" stroke="#111" stroke-width="2.2" stroke-linejoin="round"/><circle cx="1827.8" cy="1511.1" r="6.875000000000001" fill="#ccc" stroke="#111" stroke-width="1.6"/><circle cx="1827.8" cy="1511.1" r="3.75" fill="#333"/>
<path d="M2313.5,824.2 L2312.6,822.4 L2312.6,820.7 L2313.7,819.3 L2315.2,818.0 L2316.2,816.5 L2316.0,814.6 L2315.2,812.3 L2315.1,810.2 L2316.2,808.8 L2317.9,807.9 L2319.3,806.8 L2319.9,805.3 L2319.7,803.4 L2319.7,801.4 L2320.3,800.0 L2321.7,799.1 L2323.6,798.7 L2325.3,798.1 L2326.3,797.0 L2326.7,795.4 L2327.1,793.5 L2327.9,792.2 L2329.4,791.6 L2331.4,791.5 L2333.3,791.5 L2334.7,790.8 L2335.5,789.4 L2336.2,787.7 L2337.3,786.4 L2339.0,786.1 L2341.0,786.5 L2343.1,786.9 L2344.7,786.5 L2345.8,785.3 L2347.0,783.8 L2348.5,783.0 L2350.5,783.5 L2352.8,784.6 L2354.8,785.1 L2356.4,784.3 L2358.0,782.9 L2359.9,782.4 L2362.1,783.5 L2364.3,785.1 L2366.2,785.5 L2368.1,784.4 L2370.1,783.5 L2372.0,784.2 L2373.9,786.1 L2375.7,787.5 L2377.7,787.4 L2379.9,786.6 L2382.0,786.8 L2383.7,788.6 L2385.2,790.8 L2387.1,791.5 L2389.5,790.9 L2391.9,791.0 L2393.4,792.6 L2394.5,794.9 L2396.2,796.2 L2398.8,796.1 L2401.5,796.2 L2403.1,798.0 L2403.9,800.4 L2405.6,801.8 L2408.6,802.0 L2411.2,802.5 L2412.3,804.3 L2412.7,806.4 L2413.7,807.8 L2415.7,808.5 L2418.0,808.9 L2419.7,809.6 L2420.5,810.7 L2420.6,812.1 L2420.5,813.5 L2421.8,814.2 L2422.5,815.1 L2423.0,816.1 L2423.6,817.2 L2424.1,818.2 L2424.6,819.4 L2425.1,820.6 L2425.6,821.9 L2426.0,823.2 L2426.4,824.6 L2426.7,826.0 L2427.0,827.5 L2427.2,829.0 L2427.4,830.5 L2427.6,832.1 L2427.7,833.6 L2427.8,835.2 L2427.8,836.7 L2427.8,838.3 L2427.7,839.9 L2427.7,841.5 L2427.5,843.1 L2427.4,844.8 L2427.1,846.5 L2426.9,848.2 L2426.6,849.8 L2426.2,851.5 L2425.8,853.1 L2425.3,854.7 L2424.8,856.3 L2424.2,857.8 L2423.5,859.3 L2422.8,860.7 L2422.1,862.1 L2421.2,863.5 L2420.4,864.9 L2419.4,866.2 L2418.5,867.6 L2417.4,868.9 L2416.3,870.1 L2415.2,871.4 L2414.0,872.6 L2412.7,873.8 L2411.4,875.0 L2410.0,876.2 L2408.5,877.3 L2406.9,878.5 L2405.3,879.6 L2403.7,880.7 L2402.0,881.8 L2400.3,882.8 L2398.5,883.7 L2396.7,884.6 L2395.0,885.4 L2393.2,886.1 L2391.4,886.7 L2389.4,887.3 L2387.3,887.9 L2385.2,888.3 L2383.1,888.8 L2380.9,889.1 L2378.8,889.4 L2376.8,889.6 L2374.9,889.8 L2373.2,889.8 L2371.6,889.8 L2370.2,889.7 L2369.1,889.5 L2368.2,889.1 L2367.5,888.6 L2367.0,888.1 L2366.6,887.4 L2366.2,886.7 L2365.9,886.0 L2365.5,885.2 L2365.1,884.5 L2364.6,883.8 L2363.9,883.2 L2363.1,882.6 L2362.1,882.1 L2361.0,881.7 L2359.8,881.4 L2358.6,881.1 L2357.3,880.8 L2355.9,880.5 L2354.5,880.2 L2353.1,879.8 L2351.6,879.3 L2350.2,878.8 L2348.7,878.1 L2347.2,877.3 L2345.7,876.4 L2344.1,875.3 L2342.4,874.2 L2340.7,873.0 L2339.0,871.7 L2337.2,870.4 L2335.5,868.9 L2333.8,867.5 L2332.2,866.0 L2330.6,864.5 L2329.1,862.9 L2327.7,861.4 L2326.4,859.8 L2325.1,858.1 L2323.9,856.3 L2322.6,854.5 L2321.5,852.6 L2321.7,850.4 L2319.4,848.8 L2317.1,847.2 L2316.5,845.3 L2317.0,843.4 L2317.3,841.6 L2316.3,840.1 L2314.6,838.6 L2313.2,837.2 L2312.6,835.8 L2312.8,834.5 L2313.5,833.3 L2314.3,832.1 L2314.6,831.0 L2314.3,829.7 L2313.5,828.4 L2312.6,826.9 L2312.0,825.3 Z" fill="#d4d4d4" stroke="#111" stroke-width="2.6" stroke-linejoin="round" />
<path d="M2416.2,808.2 C2417.4,806.6 2423.2,815.6 2425.1,820.6 C2427.0,825.6 2428.0,832.1 2427.8,838.3 C2427.7,844.5 2426.7,851.9 2424.2,857.8 C2421.7,863.7 2414.1,875.1 2412.7,873.8 C2411.3,872.5 2415.1,857.3 2416.0,850.0 C2416.9,842.7 2418.0,837.0 2418.0,830.0 C2418.0,823.0 2415.0,809.8 2416.2,808.2 Z" fill="#ececec" stroke="#111" stroke-width="0" stroke-linejoin="round" stroke-linecap="round" />
<path d="M2364.0,803.0 L2372.0,806.0 L2372.0,816.0 L2364.0,813.0 Z" fill="#fff" stroke="#111" stroke-width="1.8" stroke-linejoin="round" />
<ellipse cx="2358.7" cy="854.3" rx="5" ry="5" transform="rotate(0 2358.7 854.3)" fill="#fff" stroke="#111" stroke-width="1.8" />
<path d="M2342.0,858.0 L2354.0,852.0" fill="none" stroke="#111" stroke-width="2" stroke-linejoin="round" stroke-linecap="round" /><path d="M2360.0,858.0 L2366.0,873.0" fill="none" stroke="#111" stroke-width="2" stroke-linejoin="round" stroke-linecap="round" />
<path d="M1909.8,1172.9 L1909.2,1171.1 L1909.3,1169.4 L1910.6,1168.0 L1912.4,1166.7 L1913.3,1165.0 L1912.9,1162.7 L1912.3,1160.1 L1913.0,1158.2 L1914.9,1157.0 L1916.6,1155.9 L1917.2,1154.1 L1917.1,1151.7 L1917.3,1149.6 L1918.5,1148.2 L1920.7,1147.6 L1922.6,1147.0 L1923.6,1145.4 L1924.0,1143.1 L1924.7,1141.0 L1926.3,1140.1 L1928.4,1139.9 L1930.4,1139.7 L1931.6,1138.7 L1932.4,1137.1 L1933.1,1135.4 L1934.2,1134.3 L1935.8,1134.2 L1937.7,1134.7 L1939.5,1135.2 L1940.9,1135.2 L1942.1,1134.6 L1943.1,1133.4 L1944.1,1132.4 L1945.5,1132.0 L1947.1,1132.5 L1948.9,1133.5 L1950.6,1134.3 L1952.0,1134.5 L1953.3,1133.8 L1954.5,1132.7 L1955.8,1132.1 L1957.4,1132.3 L1959.0,1133.4 L1960.6,1134.8 L1962.1,1135.6 L1963.6,1135.5 L1965.2,1134.6 L1966.8,1134.1 L1968.5,1134.7 L1970.1,1136.5 L1971.6,1138.2 L1973.3,1138.9 L1975.2,1138.4 L1977.2,1137.9 L1979.0,1138.8 L1980.4,1140.9 L1981.8,1142.8 L1983.8,1143.3 L1986.2,1142.8 L1988.4,1143.2 L1989.9,1145.2 L1991.1,1147.6 L1993.5,1148.4 L1996.8,1148.2 L1999.0,1149.5 L1999.9,1152.2 L2001.7,1153.8 L2005.1,1154.0 L2007.8,1154.8 L2008.7,1156.8 L2009.2,1158.8 L2010.7,1160.0 L2013.0,1160.6 L2015.1,1161.1 L2016.4,1162.1 L2016.8,1163.4 L2016.9,1164.8 L2017.6,1165.8 L2018.3,1166.8 L2018.9,1167.9 L2019.4,1169.0 L2019.8,1170.2 L2020.3,1171.5 L2020.7,1172.9 L2021.1,1174.4 L2021.4,1176.0 L2021.7,1177.6 L2021.9,1179.3 L2022.0,1181.1 L2022.1,1182.9 L2022.1,1184.8 L2022.1,1186.6 L2022.0,1188.5 L2021.9,1190.3 L2021.7,1192.1 L2021.5,1193.9 L2021.2,1195.7 L2020.9,1197.5 L2020.5,1199.3 L2020.1,1201.1 L2019.6,1202.9 L2019.1,1204.7 L2018.5,1206.5 L2017.9,1208.2 L2017.2,1210.0 L2016.4,1211.7 L2015.6,1213.3 L2014.7,1214.9 L2013.8,1216.5 L2012.7,1218.0 L2011.7,1219.5 L2010.5,1221.0 L2009.3,1222.4 L2008.1,1223.9 L2006.8,1225.2 L2005.4,1226.6 L2004.1,1227.8 L2002.6,1229.0 L2001.2,1230.2 L1999.7,1231.3 L1998.2,1232.3 L1996.5,1233.3 L1994.8,1234.3 L1993.0,1235.2 L1991.2,1236.0 L1989.3,1236.8 L1987.5,1237.6 L1985.7,1238.2 L1983.9,1238.9 L1982.1,1239.4 L1980.4,1239.9 L1978.8,1240.3 L1977.2,1240.6 L1975.7,1240.9 L1974.1,1241.1 L1972.6,1241.2 L1971.1,1241.3 L1969.6,1241.3 L1968.2,1241.3 L1966.9,1241.2 L1965.6,1241.0 L1964.4,1240.8 L1963.3,1240.6 L1962.3,1240.3 L1961.5,1239.9 L1960.8,1239.4 L1960.3,1238.9 L1959.9,1238.2 L1959.6,1237.6 L1959.3,1236.8 L1959.0,1236.1 L1958.7,1235.4 L1958.3,1234.6 L1957.8,1234.0 L1957.1,1233.3 L1956.3,1232.8 L1955.3,1232.3 L1954.1,1232.0 L1952.9,1231.7 L1951.5,1231.4 L1950.1,1231.2 L1948.6,1230.9 L1947.1,1230.7 L1945.6,1230.3 L1944.1,1230.0 L1942.6,1229.5 L1941.2,1229.0 L1939.8,1228.3 L1938.5,1227.5 L1937.2,1226.6 L1935.9,1225.6 L1934.6,1224.6 L1933.3,1223.4 L1932.0,1222.3 L1930.8,1221.0 L1929.5,1219.8 L1928.3,1218.6 L1927.1,1217.3 L1925.9,1216.1 L1924.8,1214.9 L1923.7,1213.7 L1922.5,1212.5 L1921.4,1211.3 L1920.3,1210.0 L1919.2,1208.8 L1918.1,1207.5 L1917.1,1206.2 L1916.1,1205.0 L1915.1,1203.7 L1914.3,1202.4 L1914.7,1200.9 L1913.1,1199.8 L1911.4,1198.8 L1910.3,1197.6 L1910.0,1196.3 L1910.5,1194.8 L1911.2,1193.4 L1911.5,1192.1 L1911.2,1190.9 L1910.2,1189.7 L1909.1,1188.4 L1908.2,1187.2 L1907.8,1186.0 L1908.1,1184.8 L1908.8,1183.8 L1909.5,1182.9 L1909.9,1182.0 L1910.1,1181.2 L1910.0,1180.3 L1909.6,1179.4 L1909.0,1178.4 L1908.4,1177.4 L1907.9,1176.2 L1907.9,1175.1 L1908.4,1173.9 Z" fill="#d4d4d4" stroke="#111" stroke-width="2.6" stroke-linejoin="round" />
<path d="M2011.7,1159.4 C2013.5,1159.6 2019.1,1167.2 2020.7,1172.9 C2022.3,1178.7 2022.5,1186.9 2021.5,1193.9 C2020.5,1200.9 2018.3,1208.7 2014.7,1214.9 C2011.1,1221.1 2001.2,1231.8 1999.7,1231.3 C1998.2,1230.8 2004.1,1218.5 2006.0,1212.0 C2007.9,1205.5 2010.3,1198.7 2011.0,1192.0 C2011.7,1185.3 2009.9,1177.4 2010.0,1172.0 C2010.1,1166.6 2009.9,1159.2 2011.7,1159.4 Z" fill="#ececec" stroke="#111" stroke-width="0" stroke-linejoin="round" stroke-linecap="round" />
<path d="M1909.8,1172.9 C1911.2,1167.4 1913.5,1157.9 1917.3,1151.9 C1921.0,1145.9 1927.0,1140.0 1932.3,1136.9 C1937.5,1133.8 1943.0,1133.5 1948.8,1133.2 C1954.5,1133.0 1960.3,1133.5 1966.8,1135.4 C1973.3,1137.3 1980.3,1140.4 1987.8,1144.4 C1995.3,1148.4 2006.2,1154.7 2011.7,1159.4 C2017.2,1164.2 2019.1,1167.2 2020.7,1172.9 C2022.3,1178.7 2022.5,1186.9 2021.5,1193.9 C2020.5,1200.9 2018.3,1208.7 2014.7,1214.9 C2011.1,1221.1 2005.7,1227.1 1999.7,1231.3 C1993.7,1235.5 1985.0,1238.8 1978.8,1240.3 C1972.6,1241.8 1966.0,1241.5 1962.3,1240.3 C1958.5,1239.0 1960.0,1234.8 1956.3,1232.8 C1952.5,1230.8 1945.0,1231.3 1939.8,1228.3 C1934.5,1225.3 1929.3,1219.6 1924.8,1214.9 C1920.3,1210.2 1915.4,1204.9 1912.8,1199.9 C1910.2,1194.9 1909.6,1189.4 1909.1,1184.9 C1908.6,1180.4 1908.4,1178.4 1909.8,1172.9 Z" fill="none" stroke="#111" stroke-width="0" stroke-linejoin="round" stroke-linecap="round" /><path d="M2010.0,1165.0 L2012.0,1192.0 L2004.0,1220.0" fill="none" stroke="#999" stroke-width="1.4" stroke-linejoin="round" stroke-linecap="round" />
<path d="M1957.0,1153.0 L1967.0,1156.0 L1967.0,1169.0 L1957.0,1166.0 Z" fill="#fff" stroke="#111" stroke-width="1.8" stroke-linejoin="round" />
<ellipse cx="1954.8" cy="1205.9" rx="5" ry="5" transform="rotate(0 1954.8 1205.9)" fill="#fff" stroke="#111" stroke-width="1.8" />
<path d="M1936.0,1208.0 L1950.0,1203.0" fill="none" stroke="#111" stroke-width="2" stroke-linejoin="round" stroke-linecap="round" /><path d="M1957.0,1209.0 L1963.0,1225.0" fill="none" stroke="#111" stroke-width="2" stroke-linejoin="round" stroke-linecap="round" />
<path d="M2164.8,793.2 L2179.0,781.7 L2212.6,802.9 L2216.0,815.0 L2215.3,819.7 L2200.0,835.0 L2193.1,838.3 L2157.7,816.2 L2156.0,805.0 Z" fill="#eee" stroke="#111" stroke-width="2.4" stroke-linejoin="round" />
<path d="M2164.8,793.2 L2200.2,812.7 L2193.1,836.6 L2157.7,816.2 Z" fill="#d0d0d0" stroke="#111" stroke-width="2.4" stroke-linejoin="round" />
<path d="M1715.1,1352.4 L1908.7,1411.1 L1915.0,1414.0 L1918.3,1419.0 L1921.4,1452.4 L1917.0,1465.0 L1908.7,1474.6 L1895.0,1483.0 L1883.3,1487.3 L1870.0,1487.0 L1692.9,1433.3 L1686.0,1427.0 L1683.3,1417.5 L1696.0,1373.0 L1699.2,1363.5 L1706.0,1355.0 Z" fill="url(#guideG)" stroke="#111" stroke-width="2.6" stroke-linejoin="round" /><path d="M1699.2,1366.0 L1912.0,1428.0" fill="none" stroke="#555" stroke-width="1.4" stroke-linejoin="round" stroke-linecap="round" /><path d="M1696.0,1410.0 L1905.0,1470.0" fill="none" stroke="#c4c4c4" stroke-width="5" stroke-linejoin="round" stroke-linecap="round" /><ellipse cx="1750.6" cy="1391.4" rx="11" ry="13" transform="rotate(-25 1750.6 1391.4)" fill="#f4f4f4" stroke="#111" stroke-width="2.2" /><path d="M1744.6,1385.4 Q1753.6,1387.4 1755.6,1400.4" fill="none" stroke="#bbb" stroke-width="2"/><ellipse cx="1784.9" cy="1402.2" rx="11" ry="13" transform="rotate(-25 1784.9 1402.2)" fill="#f4f4f4" stroke="#111" stroke-width="2.2" /><path d="M1778.9,1396.2 Q1787.9,1398.2 1789.9,1411.2" fill="none" stroke="#bbb" stroke-width="2"/><ellipse cx="1819.2" cy="1412.7" rx="11" ry="13" transform="rotate(-25 1819.2 1412.7)" fill="#f4f4f4" stroke="#111" stroke-width="2.2" /><path d="M1813.2,1406.7 Q1822.2,1408.7 1824.2,1421.7" fill="none" stroke="#bbb" stroke-width="2"/><ellipse cx="1853.2" cy="1423.2" rx="11" ry="13" transform="rotate(-25 1853.2 1423.2)" fill="#f4f4f4" stroke="#111" stroke-width="2.2" /><path d="M1847.2,1417.2 Q1856.2,1419.2 1858.2,1432.2" fill="none" stroke="#bbb" stroke-width="2"/><ellipse cx="1720.5" cy="1386.3" rx="5" ry="4" transform="rotate(-20 1720.5 1386.3)" fill="#fff" stroke="#111" stroke-width="1.6" /><ellipse cx="1884" cy="1436.5" rx="5" ry="4" transform="rotate(-20 1884 1436.5)" fill="#fff" stroke="#111" stroke-width="1.6" />
<path d="M1602.4,1474.0 L1804.0,1533.3 L1808.0,1540.0 L1811.9,1569.8 L1807.0,1585.0 L1797.6,1596.8 L1785.0,1605.0 L1772.2,1607.9 L1760.0,1606.0 L1581.7,1550.8 L1575.0,1544.0 L1573.8,1536.5 L1589.7,1487.3 L1594.0,1479.0 Z" fill="url(#guideG)" stroke="#111" stroke-width="2.6" stroke-linejoin="round" /><path d="M1592.0,1488.0 L1806.0,1548.0" fill="none" stroke="#555" stroke-width="1.4" stroke-linejoin="round" stroke-linecap="round" /><path d="M1585.0,1532.0 L1800.0,1594.0" fill="none" stroke="#c4c4c4" stroke-width="5" stroke-linejoin="round" stroke-linecap="round" /><ellipse cx="1641.1" cy="1514.3" rx="11" ry="13" transform="rotate(-25 1641.1 1514.3)" fill="#f4f4f4" stroke="#111" stroke-width="2.2" /><path d="M1635.1,1508.3 Q1644.1,1510.3 1646.1,1523.3" fill="none" stroke="#bbb" stroke-width="2"/><ellipse cx="1675.4" cy="1523.8" rx="11" ry="13" transform="rotate(-25 1675.4 1523.8)" fill="#f4f4f4" stroke="#111" stroke-width="2.2" /><path d="M1669.4,1517.8 Q1678.4,1519.8 1680.4,1532.8" fill="none" stroke="#bbb" stroke-width="2"/><ellipse cx="1709.4" cy="1534" rx="11" ry="13" transform="rotate(-25 1709.4 1534)" fill="#f4f4f4" stroke="#111" stroke-width="2.2" /><path d="M1703.4,1528 Q1712.4,1530 1714.4,1543" fill="none" stroke="#bbb" stroke-width="2"/><ellipse cx="1743.7" cy="1544.4" rx="11" ry="13" transform="rotate(-25 1743.7 1544.4)" fill="#f4f4f4" stroke="#111" stroke-width="2.2" /><path d="M1737.7,1538.4 Q1746.7,1540.4 1748.7,1553.4" fill="none" stroke="#bbb" stroke-width="2"/><ellipse cx="1610.3" cy="1508" rx="5" ry="4" transform="rotate(-20 1610.3 1508)" fill="#fff" stroke="#111" stroke-width="1.6" /><ellipse cx="1774.8" cy="1557.8" rx="5" ry="4" transform="rotate(-20 1774.8 1557.8)" fill="#fff" stroke="#111" stroke-width="1.6" />
<polygon points="1706.5,1412.7 1697.6,1421.6 1685.6,1418.3 1682.3,1406.3 1691.2,1397.4 1703.2,1400.7" fill="#eee" stroke="#111" stroke-width="2.2" stroke-linejoin="round"/><circle cx="1694.4" cy="1409.5" r="6.875000000000001" fill="#ccc" stroke="#111" stroke-width="1.6"/><circle cx="1694.4" cy="1409.5" r="3.75" fill="#333"/><polygon points="1870.0,1461.3 1861.1,1470.2 1849.1,1466.9 1845.8,1454.9 1854.7,1446.0 1866.7,1449.3" fill="#eee" stroke="#111" stroke-width="2.2" stroke-linejoin="round"/><circle cx="1857.9" cy="1458.1" r="6.875000000000001" fill="#ccc" stroke="#111" stroke-width="1.6"/><circle cx="1857.9" cy="1458.1" r="3.75" fill="#333"/>
<ellipse cx="808" cy="1100" rx="58" ry="42" transform="rotate(55 808 1100)" fill="#bbb" stroke="#111" stroke-width="2.6" />
<ellipse cx="800.5" cy="1104.5" rx="58" ry="42" transform="rotate(55 800.5 1104.5)" fill="#d9d9d9" stroke="#111" stroke-width="2.6" />
<ellipse cx="805" cy="1098" rx="35" ry="25" transform="rotate(55 805 1098)" fill="#ececec" stroke="#111" stroke-width="0" filter="url(#blur6)"/>
<g filter="url(#gray)"><text x="768" y="1110" font-family="Liberation Sans" font-weight="bold" font-size="15" fill="#fff" stroke="#222" stroke-width="1" transform="rotate(33 768 1110)">DAMSO</text></g>
<path d="M866.0,1048.0 L900.0,1018.0" fill="none" stroke="#111" stroke-width="22" stroke-linejoin="round" stroke-linecap="round" /><path d="M866.0,1048.0 L900.0,1018.0" fill="none" stroke="#f5f5f5" stroke-width="17" stroke-linejoin="round" stroke-linecap="round" />
<ellipse cx="900.4" cy="1018.6" rx="9" ry="11" transform="rotate(-40 900.4 1018.6)" fill="#fff" stroke="#111" stroke-width="2" />
<path d="M852.0,1035.0 L862.0,1029.0 L877.0,1033.0 L886.0,1047.0 L882.0,1062.0 L868.0,1066.0 L856.0,1058.0 L850.0,1046.0 Z" fill="#e4e4e4" stroke="#111" stroke-width="2.4" stroke-linejoin="round" />
<ellipse cx="942.1" cy="982.8" rx="34" ry="26" transform="rotate(58 942.1 982.8)" fill="#d6d6d6" stroke="#111" stroke-width="2.6" />
<ellipse cx="941" cy="983.5" rx="9" ry="7" transform="rotate(58 941 983.5)" fill="#fff" stroke="#111" stroke-width="2" />
<ellipse cx="1741.3" cy="289.8" rx="245" ry="99.5" transform="rotate(-41.6 1741.3 289.8)" fill="none" stroke="#555" stroke-width="4" stroke-dasharray="18 10.5"/>
<line x1="1484.5" y1="149" x2="1668.8" y2="219.3" stroke="#555" stroke-width="2.4"/>
<ellipse cx="1867" cy="183" rx="50" ry="34" transform="rotate(49 1867 183)" fill="#e6e6e6" stroke="#111" stroke-width="2.4" /><path d="M1891.8,227.7 L1899.8,220.7 L1834.2,145.3 L1826.2,152.3 Z" fill="url(#ringG)"/><path d="M1891.8,227.7 L1899.8,220.7 M1834.2,145.3 L1826.2,152.3" stroke="#111" stroke-width="2.4" fill="none"/><ellipse cx="1859" cy="190" rx="50" ry="34" transform="rotate(49 1859 190)" fill="#fff" stroke="#111" stroke-width="2.4" /><ellipse cx="1859" cy="190" rx="45.0" ry="30.6" transform="rotate(49 1859 190)" fill="none" stroke="#111" stroke-width="1.8" /><ellipse cx="1859" cy="190" rx="40.0" ry="27.200000000000003" transform="rotate(49 1859 190)" fill="none" stroke="#111" stroke-width="1.8" /><ellipse cx="1859" cy="190" rx="37.0" ry="25.16" transform="rotate(49 1859 190)" fill="url(#innerG)" stroke="#111" stroke-width="1.8" />
<ellipse cx="1794" cy="247" rx="48" ry="33" transform="rotate(49 1794 247)" fill="#e6e6e6" stroke="#111" stroke-width="2.4" /><path d="M1807.1,298.6 L1825.1,283.6 L1762.9,210.4 L1744.9,225.4 Z" fill="url(#ringG)"/><path d="M1807.1,298.6 L1825.1,283.6 M1762.9,210.4 L1744.9,225.4" stroke="#111" stroke-width="2.4" fill="none"/><ellipse cx="1776" cy="262" rx="48" ry="33" transform="rotate(49 1776 262)" fill="#fff" stroke="#111" stroke-width="2.4" /><ellipse cx="1776" cy="262" rx="41.28" ry="28.38" transform="rotate(49 1776 262)" fill="none" stroke="#111" stroke-width="1.8" /><ellipse cx="1776" cy="262" rx="34.56" ry="23.759999999999998" transform="rotate(49 1776 262)" fill="none" stroke="#111" stroke-width="1.8" /><ellipse cx="1776" cy="262" rx="29.759999999999998" ry="20.46" transform="rotate(49 1776 262)" fill="url(#innerG)" stroke="#111" stroke-width="1.8" />
<ellipse cx="1723" cy="308" rx="34" ry="25" transform="rotate(49 1723 308)" fill="#e6e6e6" stroke="#111" stroke-width="2.4" /><path d="M1711.5,363.5 L1745.5,333.5 L1700.5,282.5 L1666.5,312.5 Z" fill="url(#ringG)"/><path d="M1711.5,363.5 L1745.5,333.5 M1700.5,282.5 L1666.5,312.5" stroke="#111" stroke-width="2.4" fill="none"/><ellipse cx="1689" cy="338" rx="34" ry="25" transform="rotate(49 1689 338)" fill="#fff" stroke="#111" stroke-width="2.4" /><ellipse cx="1689" cy="338" rx="30.6" ry="22.5" transform="rotate(49 1689 338)" fill="url(#innerG)" stroke="#111" stroke-width="1.8" />
<ellipse cx="1635" cy="383" rx="48" ry="33" transform="rotate(49 1635 383)" fill="#e6e6e6" stroke="#111" stroke-width="2.4" /><path d="M1648.1,434.6 L1666.1,419.6 L1603.9,346.4 L1585.9,361.4 Z" fill="url(#ringG)"/><path d="M1648.1,434.6 L1666.1,419.6 M1603.9,346.4 L1585.9,361.4" stroke="#111" stroke-width="2.4" fill="none"/><ellipse cx="1617" cy="398" rx="48" ry="33" transform="rotate(49 1617 398)" fill="#fff" stroke="#111" stroke-width="2.4" /><ellipse cx="1617" cy="398" rx="41.28" ry="28.38" transform="rotate(49 1617 398)" fill="none" stroke="#111" stroke-width="1.8" /><ellipse cx="1617" cy="398" rx="34.56" ry="23.759999999999998" transform="rotate(49 1617 398)" fill="none" stroke="#111" stroke-width="1.8" /><ellipse cx="1617" cy="398" rx="29.759999999999998" ry="20.46" transform="rotate(49 1617 398)" fill="url(#innerG)" stroke="#111" stroke-width="1.8" />
<path d="M838.0,1073.6 L1430.0,560.9" fill="none" stroke="#222" stroke-width="1.6" stroke-dasharray="11 7"/>
<path d="M1519.0,483.8 L1880.0,171.2" fill="none" stroke="#222" stroke-width="1.6" stroke-dasharray="11 7"/>
<path d="M1921.8,726.6 L1885.0,755.7" fill="none" stroke="#222" stroke-width="1.6" stroke-dasharray="11 7"/>
<path d="M2081.2,778.7 L1977.0,870.7" fill="none" stroke="#222" stroke-width="1.6" stroke-dasharray="11 7"/>
<path d="M2373.8,753.3 L2148.6,950.3" fill="none" stroke="#222" stroke-width="1.6" stroke-dasharray="11 7"/>
<path d="M2441.0,787.0 L2416.2,806.5" fill="none" stroke="#222" stroke-width="1.6" stroke-dasharray="11 7"/>
<path d="M2350.7,864.9 L2209.9,987.1" fill="none" stroke="#222" stroke-width="1.6" stroke-dasharray="11 7"/>
<path d="M2121.0,895.2 L2090.3,996.3" fill="none" stroke="#222" stroke-width="1.6" stroke-dasharray="11 7"/>
<path d="M2090.3,925.8 L2070.4,999.4" fill="none" stroke="#222" stroke-width="1.6" stroke-dasharray="11 7"/>
<path d="M1937.0,1134.0 L2033.0,1050.0" fill="none" stroke="#222" stroke-width="1.6" stroke-dasharray="11 7"/>
<path d="M2011.7,1157.9 L2100.0,1081.0" fill="none" stroke="#222" stroke-width="1.6" stroke-dasharray="11 7"/>
<path d="M1867.9,1192.4 L1903.8,1160.9" fill="none" stroke="#222" stroke-width="1.6" stroke-dasharray="11 7"/>
<path d="M1923.3,1234.3 L1990.0,1185.0" fill="none" stroke="#222" stroke-width="1.6" stroke-dasharray="11 7"/>
<path d="M1578.6,1038.0 L1611.9,1474.0" fill="none" stroke="#222" stroke-width="1.6" stroke-dasharray="11 7"/>
<path d="M1711.9,1079.4 L1724.0,1358.7" fill="none" stroke="#222" stroke-width="1.6" stroke-dasharray="11 7"/>
<path d="M1743.7,1085.7 L1778.6,1522.2" fill="none" stroke="#222" stroke-width="1.6" stroke-dasharray="11 7"/>
<path d="M1875.4,1111.5 L1889.0,1409.5" fill="none" stroke="#222" stroke-width="1.6" stroke-dasharray="11 7"/>
<path d="M1459.5,987.3 L1435.7,1085.7" fill="none" stroke="#222" stroke-width="1.6" stroke-dasharray="11 7"/>
<path d="M1523.0,1069.8 L1577.3,1024.0" fill="none" stroke="#222" stroke-width="1.6" stroke-dasharray="11 7"/>
<path d="M1688.1,1119.0 L1741.6,1074.0" fill="none" stroke="#222" stroke-width="1.6" stroke-dasharray="11 7"/>
<path d="M1664.3,1461.3 L1640.0,1482.0" fill="none" stroke="#222" stroke-width="1.6" stroke-dasharray="11 7"/>
<path d="M1827.8,1511.1 L1805.0,1530.0" fill="none" stroke="#222" stroke-width="1.6" stroke-dasharray="11 7"/>
<path d="M1694.4,1409.5 L1720.0,1388.0" fill="none" stroke="#222" stroke-width="1.6" stroke-dasharray="11 7"/>
<path d="M1857.9,1458.1 L1884.0,1436.0" fill="none" stroke="#222" stroke-width="1.6" stroke-dasharray="11 7"/>
<g stroke="#222" stroke-width="1.4" fill="none">
<line x1="874.4" y1="312.2" x2="1062.4" y2="535.6"/>
<line x1="1188" y1="209.8" x2="1422.1" y2="510.6"/>
<line x1="666.6" y1="578.1" x2="916.5" y2="966.6"/>
<line x1="509.4" y1="733.9" x2="859.5" y2="1030.5"/>
<line x1="453" y1="934.2" x2="757.3" y2="1076.5"/>
<line x1="1921.4" y1="514.6" x2="1938.6" y2="700.6"/>
<line x1="1751.6" y1="651.4" x2="1843" y2="1030"/>
<line x1="2064.3" y1="623.5" x2="1926.4" y2="935"/>
<line x1="2339.3" y1="453.6" x2="2200.2" y2="797.6"/>
<line x1="2582.8" y1="542.9" x2="2395" y2="739.2"/>
<line x1="2738.2" y1="700.5" x2="2465.8" y2="765.7"/>
<line x1="2744.9" y1="875.7" x2="2419.8" y2="863.1"/>
<line x1="2642.2" y1="1034.4" x2="2130" y2="888"/>
<line x1="2346" y1="1385.7" x2="1918.3" y2="1430.2"/>
<line x1="2180.2" y1="1570.8" x2="1838.9" y2="1509.5"/>
<line x1="763.3" y1="1347.8" x2="1218.3" y2="984.1"/>
<line x1="1023.4" y1="1440.6" x2="1396" y2="1181"/>
</g>
<circle cx="78.2" cy="283.0" r="59.00" fill="#fff" stroke="#000" stroke-width="3.0"/>
<g fill="#000" font-size="57"><path d="M82.09,303.41 V262.59 H79.53 C76.96,266.93 72.40,271.20 66.59,273.65 V277.76 C70.69,276.16 74.68,273.77 76.96,271.88 V303.41 Z"/></g>
<circle cx="836.4" cy="265.7" r="57.15" fill="#fff" stroke="#111" stroke-width="1.5"/>
<g fill="#000" font-size="58"><text x="820.28" y="286.46">2</text></g>
<circle cx="1146.7" cy="155.6" r="66.15" fill="#fff" stroke="#111" stroke-width="1.5"/>
<g fill="#000" font-size="59"><path d="M1134.08,175.92 V133.68 H1131.42 C1128.77,138.16 1124.05,142.59 1118.03,145.12 V149.37 C1122.28,147.72 1126.41,145.24 1128.77,143.29 V175.92 Z"/><text x="1144.90" y="175.92">6</text></g>
<circle cx="1424.9" cy="121.1" r="60.90" fill="#fff" stroke="#222" stroke-width="3.2"/>
<g fill="#5a5a5a" font-size="59"><path d="M1412.58,145.72 V103.48 H1409.92 C1407.27,107.96 1402.55,112.39 1396.53,114.92 V119.17 C1400.78,117.52 1404.91,115.04 1407.27,113.09 V145.72 Z"/><text x="1423.40" y="145.72">9</text></g>
<circle cx="629.4" cy="520.9" r="66.25" fill="#fff" stroke="#111" stroke-width="1.5"/>
<g fill="#000" font-size="59"><path d="M616.98,542.02 V499.78 H614.32 C611.67,504.26 606.95,508.69 600.93,511.22 V515.47 C605.18,513.82 609.31,511.34 611.67,509.39 V542.02 Z"/><text x="627.80" y="542.02">0</text></g>
<circle cx="464.4" cy="695.0" r="57.15" fill="#fff" stroke="#111" stroke-width="1.5"/>
<g fill="#000" font-size="58"><text x="448.28" y="714.76">8</text></g>
<circle cx="399.6" cy="907.9" r="57.55" fill="#fff" stroke="#111" stroke-width="1.5"/>
<g fill="#000" font-size="58"><text x="383.48" y="928.66">4</text></g>
<circle cx="1916.8" cy="456.0" r="57.25" fill="#fff" stroke="#111" stroke-width="1.5"/>
<g fill="#000" font-size="58"><text x="1901.48" y="475.96">6</text></g>
<circle cx="1736.0" cy="585.0" r="66.05" fill="#fff" stroke="#111" stroke-width="1.5"/>
<g fill="#000" font-size="59"><path d="M1722.98,607.02 V564.78 H1720.32 C1717.67,569.26 1712.95,573.69 1706.93,576.22 V580.47 C1711.18,578.82 1715.31,576.34 1717.67,574.39 V607.02 Z"/><text x="1733.80" y="607.02">4</text></g>
<circle cx="2094.1" cy="560.3" r="66.25" fill="#fff" stroke="#111" stroke-width="1.5"/>
<g fill="#000" font-size="59"><path d="M2081.68,581.42 V539.18 H2079.02 C2076.37,543.66 2071.65,548.09 2065.63,550.62 V554.87 C2069.88,553.22 2074.01,550.74 2076.37,548.79 V581.42 Z"/><text x="2092.50" y="581.42">5</text></g>
<circle cx="2365.5" cy="389.8" r="66.25" fill="#fff" stroke="#111" stroke-width="1.5"/>
<g fill="#000" font-size="59"><path d="M2353.88,411.72 V369.48 H2351.22 C2348.57,373.96 2343.85,378.39 2337.83,380.92 V385.17 C2342.08,383.52 2346.21,381.04 2348.57,379.10 V411.72 Z"/><text x="2364.70" y="411.72">3</text></g>
<circle cx="2623.7" cy="499.3" r="57.25" fill="#fff" stroke="#111" stroke-width="1.5"/>
<g fill="#000" font-size="58"><text x="2607.58" y="520.06">5</text></g>
<circle cx="2795.3" cy="686.4" r="57.25" fill="#fff" stroke="#111" stroke-width="1.5"/>
<g fill="#000" font-size="58"><text x="2779.18" y="707.16">7</text></g>
<circle cx="2802.9" cy="877.8" r="57.25" fill="#fff" stroke="#111" stroke-width="1.5"/>
<g fill="#000" font-size="58"><text x="2787.98" y="898.56">3</text></g>
<circle cx="2703.9" cy="1052.6" r="61.75" fill="#fff" stroke="#111" stroke-width="1.5"/>
<g fill="#000" font-size="59"><path d="M2695.28,1074.22 V1031.98 H2692.62 C2689.97,1036.46 2685.25,1040.89 2679.23,1043.42 V1047.67 C2683.48,1046.02 2687.61,1043.54 2689.97,1041.60 V1074.22 Z"/><path d="M2728.08,1074.22 V1031.98 H2725.43 C2722.77,1036.46 2718.05,1040.89 2712.04,1043.42 V1047.67 C2716.28,1046.02 2720.41,1043.54 2722.77,1041.60 V1074.22 Z"/></g>
<circle cx="2412.6" cy="1377.8" r="66.05" fill="#fff" stroke="#111" stroke-width="1.5"/>
<g fill="#000" font-size="59"><path d="M2400.18,1399.32 V1357.08 H2397.52 C2394.87,1361.56 2390.15,1365.99 2384.13,1368.52 V1372.77 C2388.38,1371.12 2392.51,1368.64 2394.87,1366.70 V1399.32 Z"/><text x="2411.00" y="1399.32">7</text></g>
<circle cx="2246.4" cy="1582.4" r="65.95" fill="#fff" stroke="#111" stroke-width="1.5"/>
<g fill="#000" font-size="59"><path d="M2235.58,1603.52 V1561.28 H2232.92 C2230.27,1565.76 2225.55,1570.19 2219.53,1572.72 V1576.97 C2223.78,1575.32 2227.91,1572.84 2230.27,1570.90 V1603.52 Z"/><text x="2246.40" y="1603.52">2</text></g>
<circle cx="710.3" cy="1389.7" r="66.25" fill="#fff" stroke="#111" stroke-width="1.5"/>
<g fill="#000" font-size="59"><path d="M699.48,1410.82 V1368.58 H696.82 C694.17,1373.06 689.45,1377.49 683.43,1380.02 V1384.27 C687.68,1382.62 691.81,1380.14 694.17,1378.20 V1410.82 Z"/><text x="710.30" y="1410.82">8</text></g>
<circle cx="976.4" cy="1474.8" r="57.25" fill="#fff" stroke="#111" stroke-width="1.5"/>
<g fill="#000" font-size="58"><text x="960.28" y="1494.76">9</text></g>
</svg></body></html>
